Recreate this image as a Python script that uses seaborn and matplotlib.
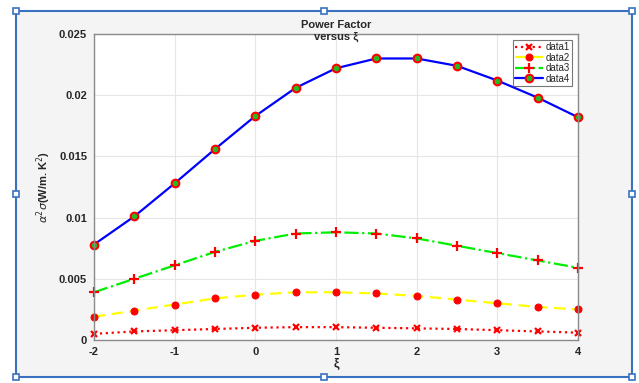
import matplotlib
matplotlib.use("Agg")
import matplotlib.pyplot as plt
from matplotlib.patches import Rectangle
import seaborn as sns
import pandas as pd

# values
xi = [-2, -1.5, -1, -0.5, 0, 0.5, 1, 1.5, 2, 2.5, 3, 3.5, 4]
data1 = [0.0005, 0.0007, 0.0008, 0.0009, 0.0010, 0.00105, 0.00105, 0.0010, 0.00095, 0.0009, 0.0008, 0.0007, 0.0006]
data2 = [0.0019, 0.0024, 0.0029, 0.0034, 0.0037, 0.0039, 0.0039, 0.0038, 0.0036, 0.0033, 0.0030, 0.0027, 0.0025]
data3 = [0.0039, 0.0050, 0.0061, 0.0072, 0.0081, 0.0087, 0.0088, 0.0087, 0.0083, 0.0077, 0.0071, 0.0065, 0.0059]
data4 = [0.0078, 0.0101, 0.0128, 0.0156, 0.0183, 0.0206, 0.0222, 0.0230, 0.0230, 0.0224, 0.0212, 0.0198, 0.0182]

xticks = [-2, -1, 0, 1, 2, 3, 4]
yticks = [0, 0.005, 0.01, 0.015, 0.02, 0.025]
yticklabels = ["0", "0.005", "0.01", "0.015", "0.02", "0.025"]

sns.set_style("white")
plt.rcParams['font.family'] = ['Liberation Sans', 'DejaVu Sans']

fig = plt.figure(figsize=(6.39, 3.83), dpi=100)
fig.patch.set_facecolor("white")

# the selected figure frame (gray panel with blue outline and handles)
W, H = 639.0, 383.0
x0, y0, x1, y1 = 16, 11, 632, 377
fig.patches.append(Rectangle((x0 / W, 1 - y1 / H), (x1 - x0) / W, (y1 - y0) / H,
                             transform=fig.transFigure, facecolor="#f4f4f4",
                             edgecolor="#3a72c0", linewidth=1.5, zorder=-5))
hs = 6
for hx, hy in [(x0, y0), ((x0 + x1) / 2, y0), (x1, y0), (x0, (y0 + y1) / 2),
               (x1, (y0 + y1) / 2), (x0, y1), ((x0 + x1) / 2, y1), (x1, y1)]:
    fig.patches.append(Rectangle(((hx - hs / 2) / W, 1 - (hy + hs / 2) / H), hs / W, hs / H,
                                 transform=fig.transFigure, facecolor="white",
                                 edgecolor="#3a72c0", linewidth=1.2, zorder=5))

ax = fig.add_axes([94 / W, 1 - 340 / H, (578 - 94) / W, (340 - 34) / H])
ax.set_facecolor("white")
ax.set_zorder(1)

df = pd.DataFrame({"xi": xi, "data1": data1, "data2": data2, "data3": data3, "data4": data4})

sns.lineplot(data=df, x="xi", y="data1", ax=ax, color="red", linestyle=":", linewidth=1.6,
             marker="x", markersize=4.5, markeredgewidth=1.6, markeredgecolor="red",
             label="data1", clip_on=False)
sns.lineplot(data=df, x="xi", y="data2", ax=ax, color="yellow", linestyle=(0, (5, 3)), linewidth=1.6,
             marker="o", markersize=5, markerfacecolor="red", markeredgecolor="red",
             label="data2", clip_on=False)
sns.lineplot(data=df, x="xi", y="data3", ax=ax, color="#00ee00", linestyle="-.", linewidth=1.6,
             marker="+", markersize=6.5, markeredgewidth=1.6, markeredgecolor="red",
             label="data3", clip_on=False)
sns.lineplot(data=df, x="xi", y="data4", ax=ax, color="blue", linestyle="-", linewidth=1.6,
             marker="o", markersize=5.5, markerfacecolor="#22bb22", markeredgecolor="red",
             markeredgewidth=1.5, label="data4", clip_on=False)

ax.set_xlim(-2, 4)
ax.set_ylim(0, 0.025)
ax.set_xticks(xticks)
ax.set_xticklabels([str(t) for t in xticks], fontsize=8, fontweight="bold", color="#262626")
ax.set_yticks(yticks)
ax.set_yticklabels(yticklabels, fontsize=8, fontweight="bold", color="#262626")
ax.tick_params(axis="both", direction="in", length=3, color="#808080", pad=5)
ax.grid(True, color="#e6e6e6", linewidth=0.8)
for s in ax.spines.values():
    s.set_color("#8a8a8a")
    s.set_linewidth(1)

ax.set_xlabel("ξ", fontsize=9, fontweight="bold", labelpad=1)
ax.set_ylabel(r"$\alpha^2\sigma$(W/m. K$^2$)", fontsize=8, fontweight="bold", labelpad=4)
ax.set_title("Power Factor\nversus ξ", fontsize=8, fontweight="bold", color="#262626", pad=-4,
             linespacing=1.2)

leg = ax.legend(loc="upper right", fontsize=7, frameon=True, fancybox=False,
                borderpad=0.25, labelspacing=0.05, handlelength=2.8, handletextpad=0.3,
                borderaxespad=0.6)
leg.get_frame().set_edgecolor("#555555")
leg.get_frame().set_linewidth(0.8)
leg.set_zorder(10)

fig.savefig("out.png", dpi=100)
